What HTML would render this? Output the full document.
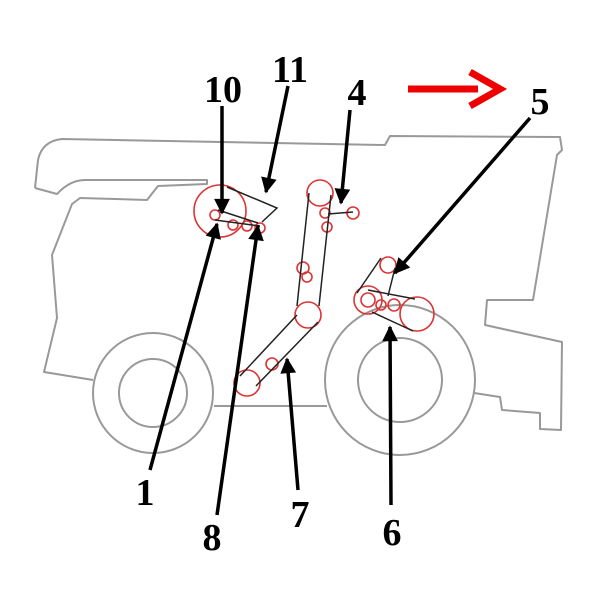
<!DOCTYPE html>
<html><head><meta charset="utf-8"><style>html,body{margin:0;padding:0;background:#fff}svg{display:block}</style></head><body>
<svg width="600" height="600" viewBox="0 0 600 600" xmlns="http://www.w3.org/2000/svg">
<defs>
<marker id="ah" viewBox="0 0 10 10" refX="9" refY="5" markerWidth="5" markerHeight="4.5" orient="auto-start-reverse" markerUnits="strokeWidth"><path d="M0,0 L10,5 L0,10 Z" fill="#000"/></marker>
</defs>
<g fill="none" stroke="#999" stroke-width="2" stroke-linejoin="round">
<path d="M35,188 L38,160 Q42,141 62,139 L385,145 L390,136 L560,137 L562,150 L557,155 L533,300 L487,300 L485,325 L562,342 L561,430 L540,429 L540,413 L502,410 L500,397 L474,393"/>
<path d="M35,188 L57,194 Q70,180 85,180 L207,180 L207,184 L158,186 L147,200 L80,198 L72,204 L52,255 L57,318 L44,372 L93,380"/>
<path d="M214,406 L327,406"/>
<circle cx="153" cy="393" r="60"/><circle cx="153" cy="393" r="34"/>
<circle cx="400" cy="380" r="75"/><circle cx="400" cy="380" r="42"/>
</g>
<g fill="none" stroke="#d33" stroke-width="1.6">
<circle cx="220" cy="211" r="26"/>
<circle cx="215" cy="215" r="5"/><circle cx="233" cy="225" r="5"/><circle cx="247" cy="226" r="5"/><circle cx="260" cy="228" r="5"/>
<circle cx="320" cy="193" r="13"/><circle cx="325" cy="213" r="5"/><circle cx="353" cy="213" r="6"/><circle cx="327" cy="227" r="5"/>
<circle cx="303" cy="268" r="6"/><circle cx="307" cy="277" r="5"/>
<circle cx="308" cy="315" r="13"/><circle cx="247" cy="383" r="13"/><circle cx="272" cy="364" r="6"/>
<circle cx="388" cy="265" r="8"/><circle cx="368" cy="300" r="14"/><circle cx="368" cy="300" r="7"/><circle cx="381" cy="305" r="5"/><circle cx="394" cy="305" r="6"/><circle cx="417" cy="314" r="17"/>
</g>
<g fill="none" stroke="#222" stroke-width="1.5">
<path d="M227,187 L277,208 L262,222 M215,220 L260,226 M218,210 L258,223"/>
<path d="M309,193 L297,306 M331,195 L319,306 M328,214 L353,212"/>
<path d="M297,315 L240,376 M318,322 L256,386"/>
<path d="M381,258 L357,293 M395,268 L388,296 M372,312 L413,331 M368,290 L415,299"/>
</g>
<g stroke="#000" stroke-width="3.5" marker-end="url(#ah)">
<line x1="222" y1="106" x2="222" y2="213"/>
<line x1="288" y1="86" x2="266" y2="192"/>
<line x1="350" y1="110" x2="341" y2="203"/>
<line x1="530" y1="118" x2="395" y2="273"/>
<line x1="150" y1="470" x2="217" y2="224"/>
<line x1="217" y1="515" x2="258" y2="226"/>
<line x1="298" y1="490" x2="287" y2="359"/>
<line x1="391" y1="505" x2="390" y2="327"/>
</g>
<path d="M408,89 L478,89" stroke="#e00" stroke-width="7"/>
<path d="M470,72 L500,89 L470,106" stroke="#e00" stroke-width="7" fill="none"/>
<g font-family="Liberation Serif, serif" font-weight="bold" font-size="38" fill="#000" text-anchor="middle">
<text x="223" y="102">10</text>
<text x="290" y="82">11</text>
<text x="357" y="105">4</text>
<text x="540" y="114">5</text>
<text x="145" y="505">1</text>
<text x="212" y="550">8</text>
<text x="300" y="527">7</text>
<text x="392" y="545">6</text>
</g>
</svg>
</body></html>
